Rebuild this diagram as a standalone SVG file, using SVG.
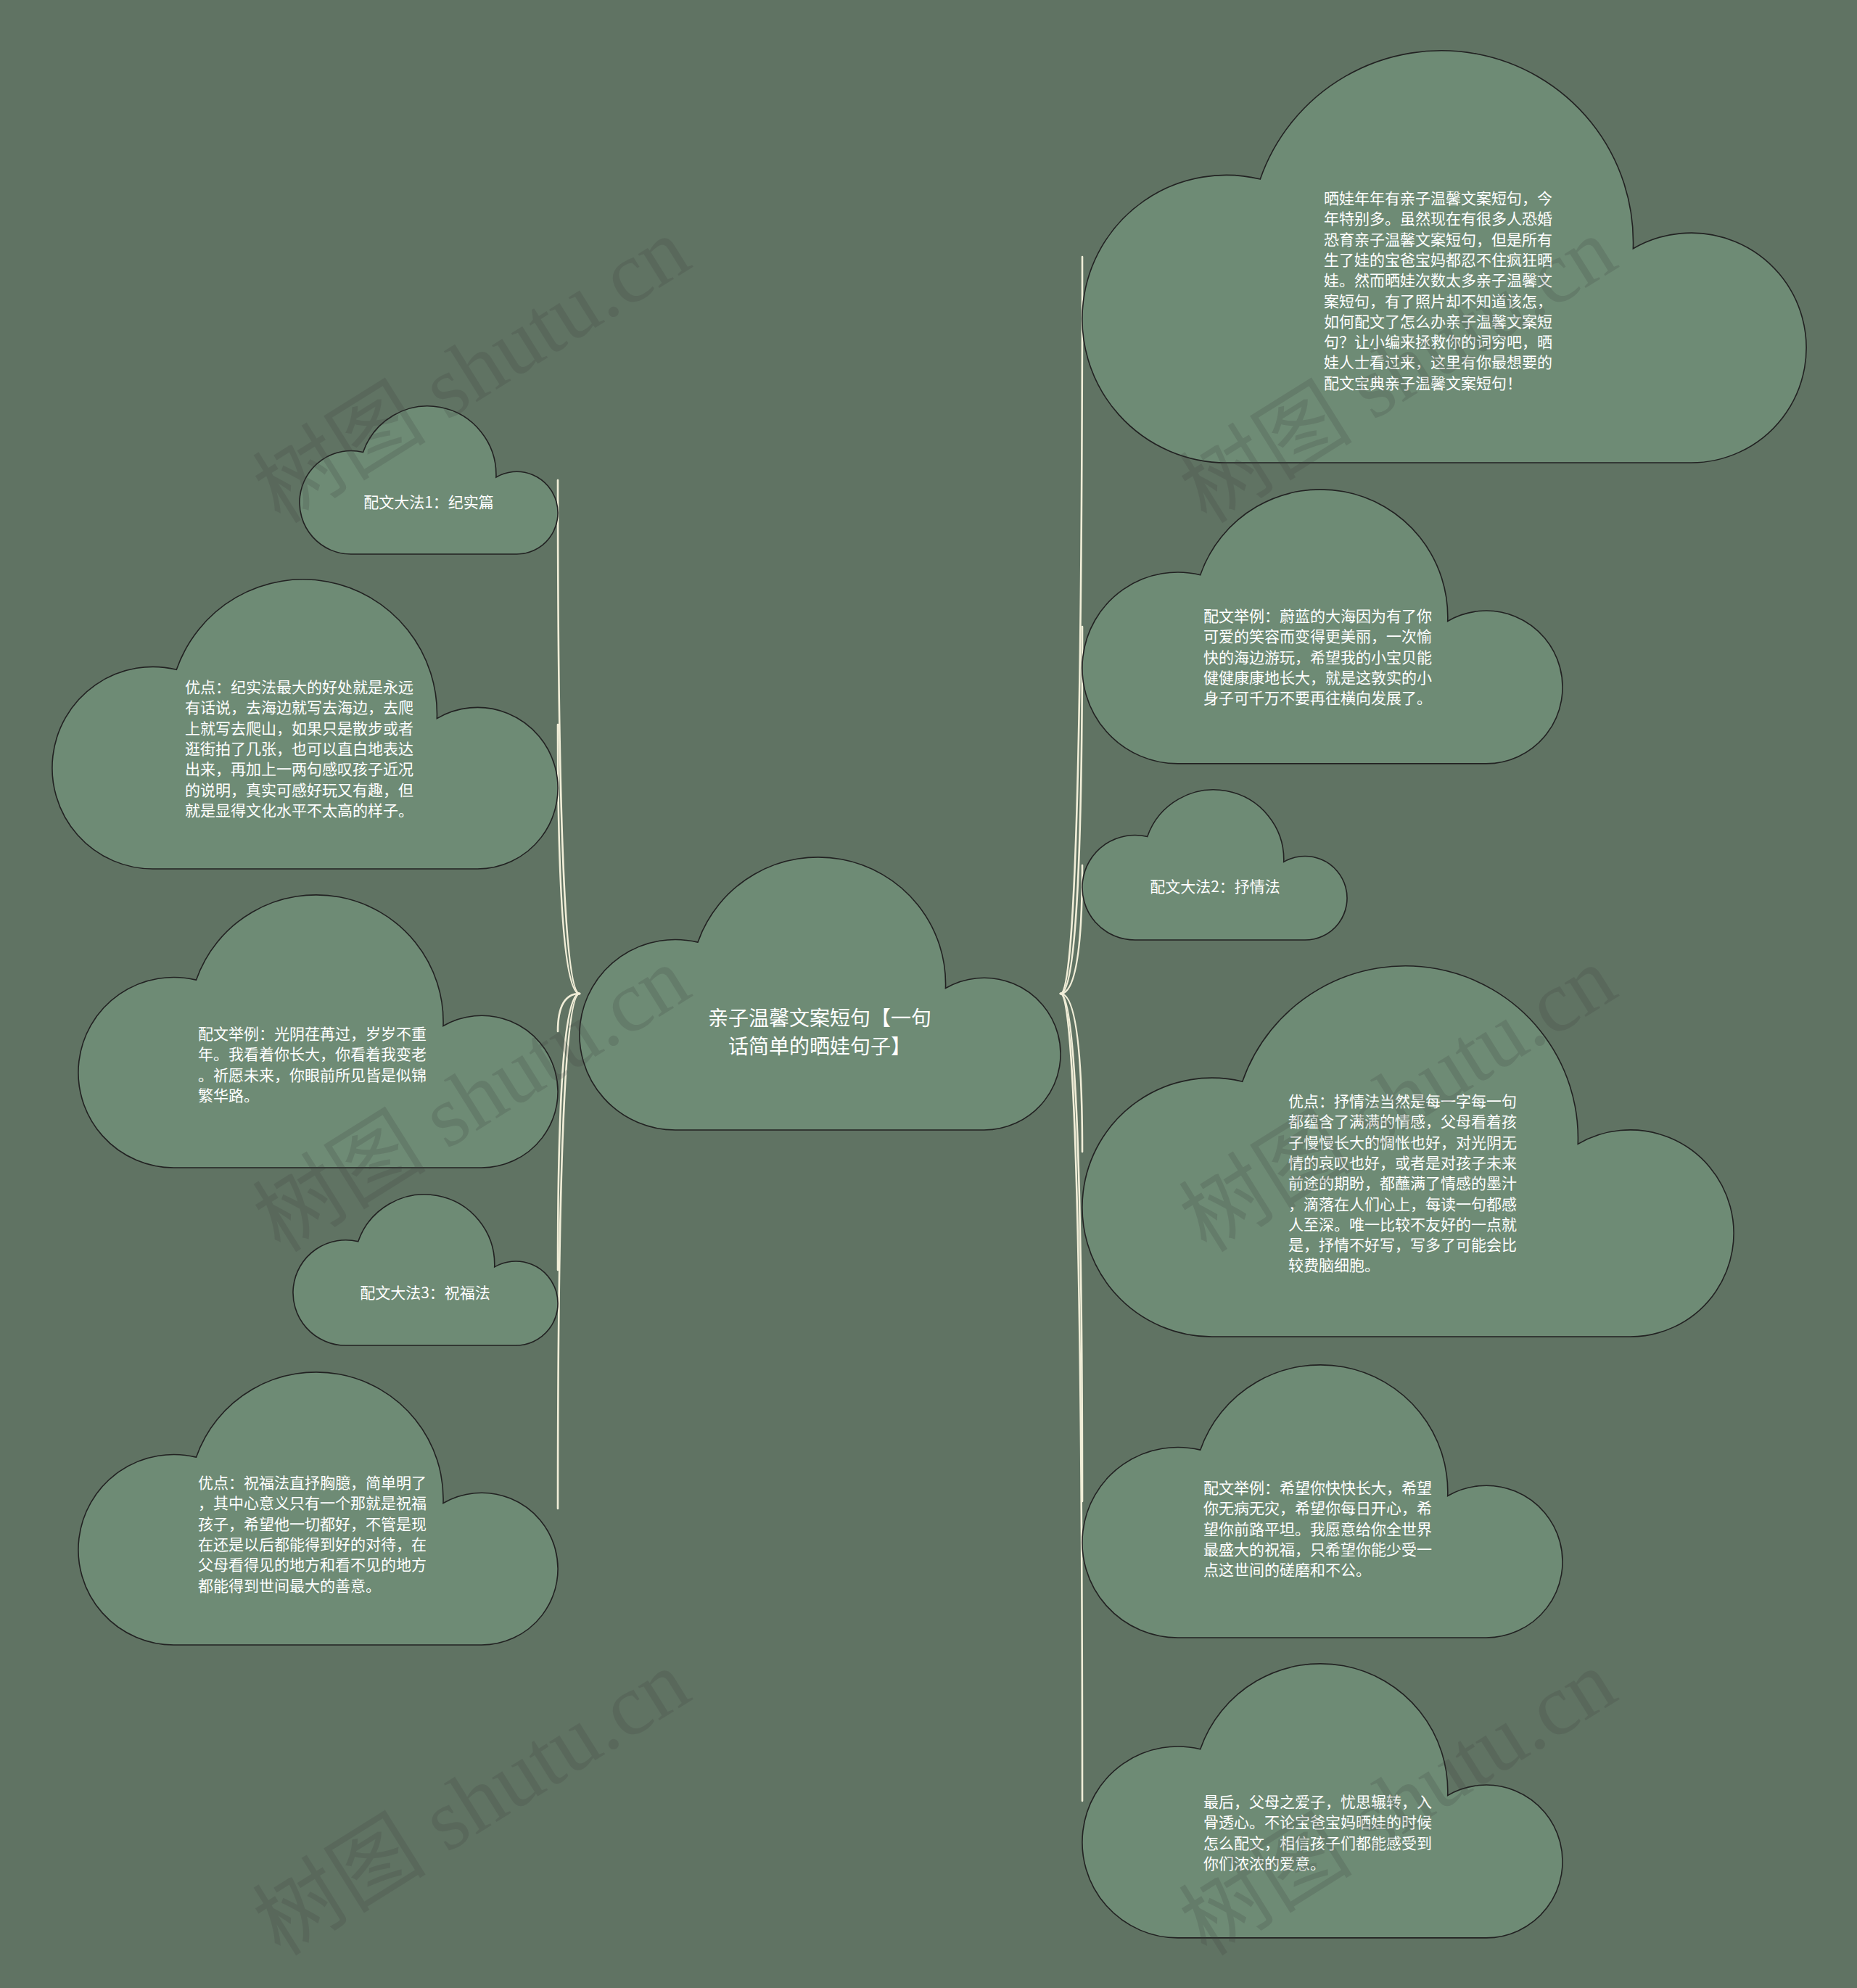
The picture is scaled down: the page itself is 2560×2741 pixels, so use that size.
<svg xmlns="http://www.w3.org/2000/svg" xmlns:xlink="http://www.w3.org/1999/xlink" width="2560" height="2741" viewBox="0 0 2560 2741">
<style>
.cloud{fill:#6e8b75;stroke:#222;stroke-width:1.6}
.t{font-family:"Noto Sans CJK SC","Noto Sans",sans-serif;font-size:21px;fill:#fff}
.tc{font-family:"Noto Sans CJK SC","Noto Sans",sans-serif;font-size:28px;fill:#fff;text-anchor:middle}
.tm{text-anchor:middle}
.edge{fill:none;stroke:#f1eed8;stroke-width:2.6;stroke-linecap:round}
.wm{font-family:"Liberation Serif","Noto Sans CJK SC",serif;font-size:120px;fill:#3c3c3c;opacity:0.18;text-anchor:middle}
</style>
<defs>
<path id="cl" vector-effect="non-scaling-stroke" d="M199 570 A199 199 0 1 1 245.8 177.6 A265 265 0 0 1 760.9 273.7 A159 159 0 1 1 841 570 Z"/>
</defs>
<rect width="2560" height="2741" fill="#607363"/>
<g id="connectors">
<path class="edge" d="M1462 1370 Q1492 1370 1492 354"/>
<path class="edge" d="M1462 1370 Q1492 1370 1492 864"/>
<path class="edge" d="M1462 1370 Q1492 1370 1492 1193"/>
<path class="edge" d="M1462 1370 Q1492 1370 1492 1588"/>
<path class="edge" d="M1462 1370 Q1492 1370 1492 2070"/>
<path class="edge" d="M1462 1370 Q1492 1370 1492 2483"/>
<path class="edge" d="M799 1370 Q769 1370 769 662"/>
<path class="edge" d="M799 1370 Q769 1370 769 999"/>
<path class="edge" d="M799 1370 Q769 1370 769 1422"/>
<path class="edge" d="M799 1370 Q769 1370 769 1751"/>
<path class="edge" d="M799 1370 Q769 1370 769 2080"/>
</g>
<g id="root">
<use xlink:href="#cl" class="cloud" transform="translate(799 1182) scale(0.663 0.6596)"/>
<text class="tc" x="1130" y="1414">亲子温馨文案短句【一句</text>
<text class="tc" x="1130" y="1453">话简单的晒娃句子】</text>
</g>
<g id="r1">
<use xlink:href="#cl" class="cloud" transform="translate(1492 70) scale(0.998 0.9965)"/>
<text class="t" x="1825" y="281"><tspan x="1825">晒娃年年有亲子温馨文案短句，今</tspan><tspan x="1825" dy="28.3">年特别多。虽然现在有很多人恐婚</tspan><tspan x="1825" dy="28.3">恐育亲子温馨文案短句，但是所有</tspan><tspan x="1825" dy="28.3">生了娃的宝爸宝妈都忍不住疯狂晒</tspan><tspan x="1825" dy="28.3">娃。然而晒娃次数太多亲子温馨文</tspan><tspan x="1825" dy="28.3">案短句，有了照片却不知道该怎，</tspan><tspan x="1825" dy="28.3">如何配文了怎么办亲子温馨文案短</tspan><tspan x="1825" dy="28.3">句？让小编来拯救你的词穷吧，晒</tspan><tspan x="1825" dy="28.3">娃人士看过来，这里有你最想要的</tspan><tspan x="1825" dy="28.3">配文宝典亲子温馨文案短句！</tspan></text>
</g>
<g id="r2">
<use xlink:href="#cl" class="cloud" transform="translate(1492 675) scale(0.662 0.663)"/>
<text class="t" x="1659" y="857"><tspan x="1659">配文举例：蔚蓝的大海因为有了你</tspan><tspan x="1659" dy="28.3">可爱的笑容而变得更美丽，一次愉</tspan><tspan x="1659" dy="28.3">快的海边游玩，希望我的小宝贝能</tspan><tspan x="1659" dy="28.3">健健康康地长大，就是这敦实的小</tspan><tspan x="1659" dy="28.3">身子可千万不要再往横向发展了。</tspan></text>
</g>
<g id="r3">
<use xlink:href="#cl" class="cloud" transform="translate(1492 1089) scale(0.365 0.3632)"/>
<text class="t tm" x="1675" y="1230">配文大法2：抒情法</text>
</g>
<g id="r4">
<use xlink:href="#cl" class="cloud" transform="translate(1492 1332) scale(0.898 0.8965)"/>
<text class="t" x="1776" y="1526"><tspan x="1776">优点：抒情法当然是每一字每一句</tspan><tspan x="1776" dy="28.3">都蕴含了满满的情感，父母看着孩</tspan><tspan x="1776" dy="28.3">子慢慢长大的惆怅也好，对光阴无</tspan><tspan x="1776" dy="28.3">情的哀叹也好，或者是对孩子未来</tspan><tspan x="1776" dy="28.3">前途的期盼，都蘸满了情感的墨汁</tspan><tspan x="1776" dy="28.3">，滴落在人们心上，每读一句都感</tspan><tspan x="1776" dy="28.3">人至深。唯一比较不友好的一点就</tspan><tspan x="1776" dy="28.3">是，抒情不好写，写多了可能会比</tspan><tspan x="1776" dy="28.3">较费脑细胞。</tspan></text>
</g>
<g id="r5">
<use xlink:href="#cl" class="cloud" transform="translate(1492 1882) scale(0.662 0.6596)"/>
<text class="t" x="1659" y="2059"><tspan x="1659">配文举例：希望你快快长大，希望</tspan><tspan x="1659" dy="28.3">你无病无灾，希望你每日开心，希</tspan><tspan x="1659" dy="28.3">望你前路平坦。我愿意给你全世界</tspan><tspan x="1659" dy="28.3">最盛大的祝福，只希望你能少受一</tspan><tspan x="1659" dy="28.3">点这世间的磋磨和不公。</tspan></text>
</g>
<g id="r6">
<use xlink:href="#cl" class="cloud" transform="translate(1492 2294) scale(0.662 0.663)"/>
<text class="t" x="1659" y="2492"><tspan x="1659">最后，父母之爱子，忧思辗转，入</tspan><tspan x="1659" dy="28.3">骨透心。不论宝爸宝妈晒娃的时候</tspan><tspan x="1659" dy="28.3">怎么配文，相信孩子们都能感受到</tspan><tspan x="1659" dy="28.3">你们浓浓的爱意。</tspan></text>
</g>
<g id="l1">
<use xlink:href="#cl" class="cloud" transform="translate(413 560) scale(0.356 0.358)"/>
<text class="t tm" x="591" y="700">配文大法1：纪实篇</text>
</g>
<g id="l2">
<use xlink:href="#cl" class="cloud" transform="translate(72 799) scale(0.697 0.7)"/>
<text class="t" x="255" y="955"><tspan x="255">优点：纪实法最大的好处就是永远</tspan><tspan x="255" dy="28.3">有话说，去海边就写去海边，去爬</tspan><tspan x="255" dy="28.3">上就写去爬山，如果只是散步或者</tspan><tspan x="255" dy="28.3">逛街拍了几张，也可以直白地表达</tspan><tspan x="255" dy="28.3">出来，再加上一两句感叹孩子近况</tspan><tspan x="255" dy="28.3">的说明，真实可感好玩又有趣，但</tspan><tspan x="255" dy="28.3">就是显得文化水平不太高的样子。</tspan></text>
</g>
<g id="l3">
<use xlink:href="#cl" class="cloud" transform="translate(108 1234) scale(0.661 0.6596)"/>
<text class="t" x="273" y="1433"><tspan x="273">配文举例：光阴荏苒过，岁岁不重</tspan><tspan x="273" dy="28.3">年。我看着你长大，你看着我变老</tspan><tspan x="273" dy="28.3">。祈愿未来，你眼前所见皆是似锦</tspan><tspan x="273" dy="28.3">繁华路。</tspan></text>
</g>
<g id="l4">
<use xlink:href="#cl" class="cloud" transform="translate(404 1647) scale(0.365 0.365)"/>
<text class="t tm" x="586" y="1790">配文大法3：祝福法</text>
</g>
<g id="l5">
<use xlink:href="#cl" class="cloud" transform="translate(108 1892) scale(0.661 0.6596)"/>
<text class="t" x="273" y="2052"><tspan x="273">优点：祝福法直抒胸臆，简单明了</tspan><tspan x="273" dy="28.3">，其中心意义只有一个那就是祝福</tspan><tspan x="273" dy="28.3">孩子，希望他一切都好，不管是现</tspan><tspan x="273" dy="28.3">在还是以后都能得到好的对待，在</tspan><tspan x="273" dy="28.3">父母看得见的地方和看不见的地方</tspan><tspan x="273" dy="28.3">都能得到世间最大的善意。</tspan></text>
</g>
<g id="watermarks">
<text class="wm" transform="translate(672 545) rotate(-32)">树图 shutu.cn</text>
<text class="wm" transform="translate(1949 545) rotate(-32)">树图 shutu.cn</text>
<text class="wm" transform="translate(672 1550) rotate(-32)">树图 shutu.cn</text>
<text class="wm" transform="translate(1949 1550) rotate(-32)">树图 shutu.cn</text>
<text class="wm" transform="translate(672 2520) rotate(-32)">树图 shutu.cn</text>
<text class="wm" transform="translate(1949 2520) rotate(-32)">树图 shutu.cn</text>
</g>
</svg>
